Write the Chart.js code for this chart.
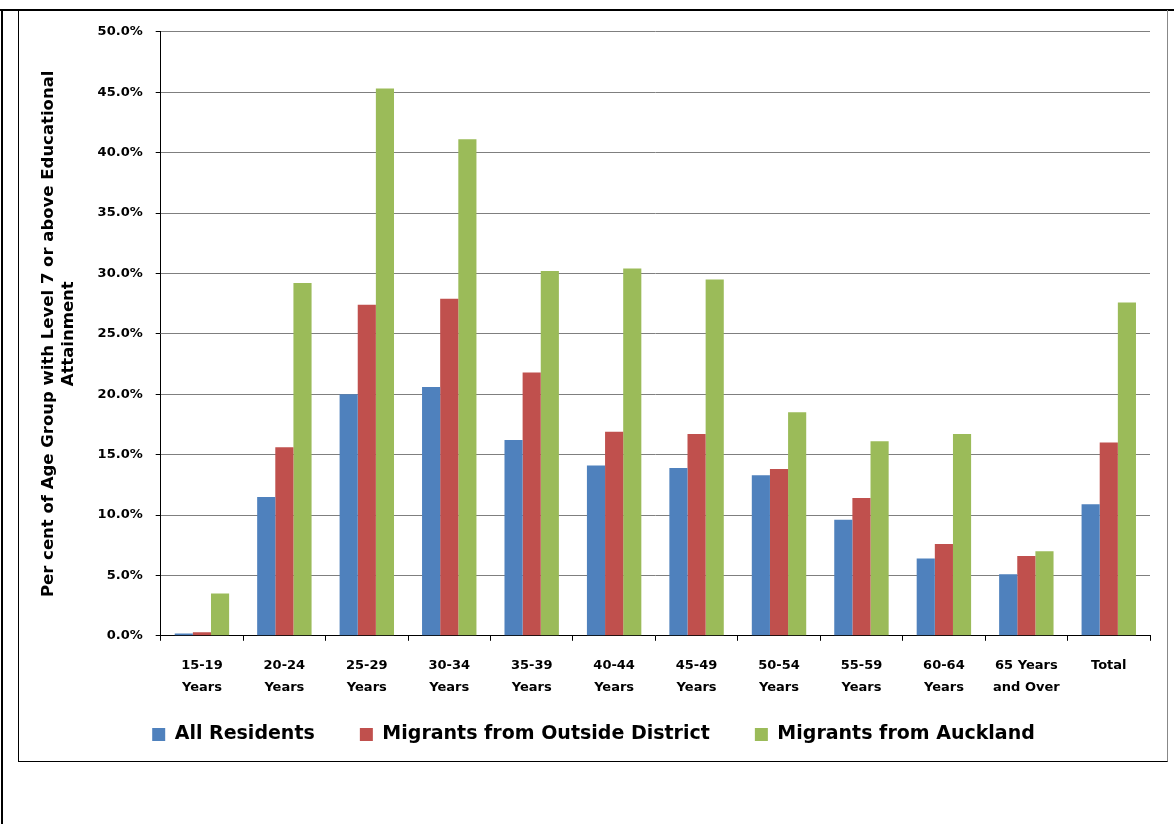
<!DOCTYPE html>
<html lang="en">
<head>
    <meta charset="UTF-8">
    <title>Level 7 or above Educational Attainment by Age Group</title>
    <script src="https://cdn.jsdelivr.net/npm/chart.js@4.4.0/dist/chart.umd.min.js"></script>
    <style>
        body, html {
            margin: 0;
            padding: 0;
            background: #fff;
            width: 1174px;
            height: 824px;
            overflow: hidden;
        }
        .topRule {
            position: absolute;
            left: 0; top: 9px;
            width: 1174px; height: 2px;
            background: #000;
        }
        .leftRule {
            position: absolute;
            left: 1px; top: 9px;
            width: 2px; height: 815px;
            background: #000;
        }
        .frame {
            position: absolute;
            left: 18px; top: 10px;
            width: 1148px; height: 751px;
            border-left: 1px solid #000;
            border-bottom: 1px solid #000;
            border-right: 1px solid #888;
        }
        .chartBox {
            position: absolute;
            left: 19px; top: 11px;
            width: 1147px; height: 750px;
        }
    </style>
</head>
<body>
    <div class="topRule"></div>
    <div class="leftRule"></div>
    <div class="frame"></div>
    <div class="chartBox"><canvas id="myChart"></canvas></div>

    <script>
        // Age groups (x axis, two-line labels)
        const ageGroups = [
            ['15-19', 'Years'], ['20-24', 'Years'], ['25-29', 'Years'], ['30-34', 'Years'],
            ['35-39', 'Years'], ['40-44', 'Years'], ['45-49', 'Years'], ['50-54', 'Years'],
            ['55-59', 'Years'], ['60-64', 'Years'], ['65 Years', 'and Over'], ['Total']
        ];

        // Per cent with Level 7+ attainment
        const allResidents = [0.2, 11.5, 20.0, 20.6, 16.2, 14.1, 13.9, 13.3, 9.6, 6.4, 5.1, 10.9];
        const outsideDistrict = [0.3, 15.6, 27.4, 27.9, 21.8, 16.9, 16.7, 13.8, 11.4, 7.6, 6.6, 16.0];
        const fromAuckland = [3.5, 29.2, 45.3, 41.1, 30.2, 30.4, 29.5, 18.5, 16.1, 16.7, 7.0, 27.6];

        const yTitle = ['Per cent of Age Group with Level 7 or above Educational', 'Attainment'];
        const fontFamily = "'DejaVu Sans', Verdana, sans-serif";

        const ctx = document.getElementById('myChart').getContext('2d');

        new Chart(ctx, {
            type: 'bar',
            data: {
                labels: ageGroups,
                datasets: [{
                    label: 'All Residents',
                    data: allResidents,
                    backgroundColor: '#4F81BD'
                }, {
                    label: 'Migrants from Outside District',
                    data: outsideDistrict,
                    backgroundColor: '#C0504D'
                }, {
                    label: 'Migrants from Auckland',
                    data: fromAuckland,
                    backgroundColor: '#9BBB59'
                }]
            },
            options: {
                responsive: true,
                maintainAspectRatio: false,
                animation: false,
                datasets: {
                    bar: {
                        categoryPercentage: 0.66,
                        barPercentage: 1.0
                    }
                },
                layout: {
                    padding: { left: 18, right: 16, top: 11, bottom: 7 }
                },
                plugins: {
                    tooltip: { enabled: false },
                    legend: {
                        position: 'bottom',
                        labels: {
                            color: '#000',
                            boxWidth: 13,
                            boxHeight: 13,
                            padding: 12,
                            font: { family: fontFamily, size: 19, weight: 'bold' },
                            // widen the gap between items without adding vertical padding
                            generateLabels: chart => {
                                const items = Chart.defaults.plugins.legend.labels.generateLabels(chart);
                                items.forEach((item, i) => {
                                    if (i < items.length - 1) item.text += '     ';
                                });
                                return items;
                            }
                        }
                    }
                },
                scales: {
                    x: {
                        grid: {
                            offset: true,
                            drawOnChartArea: false,
                            tickLength: 5,
                            tickColor: '#000'
                        },
                        border: { color: '#000', width: 1 },
                        ticks: {
                            color: '#000',
                            padding: 14,
                            maxRotation: 0,
                            autoSkip: false,
                            font: { family: fontFamily, size: 13, weight: 'bold', lineHeight: 1.7 }
                        }
                    },
                    y: {
                        min: 0,
                        max: 50,
                        grid: {
                            color: '#7f7f7f',
                            tickLength: 5,
                            tickColor: '#000'
                        },
                        border: { color: '#000', width: 1 },
                        ticks: {
                            stepSize: 5,
                            color: '#000',
                            padding: 13,
                            font: { family: fontFamily, size: 13, weight: 'bold' },
                            callback: value => value.toFixed(1) + '%'
                        },
                        title: {
                            display: true,
                            text: yTitle,
                            color: '#000',
                            padding: { top: 2, bottom: 6 },
                            font: { family: fontFamily, size: 16.5, weight: 'bold', lineHeight: 1.2 }
                        }
                    }
                }
            }
        });
    </script>
</body>
</html>
